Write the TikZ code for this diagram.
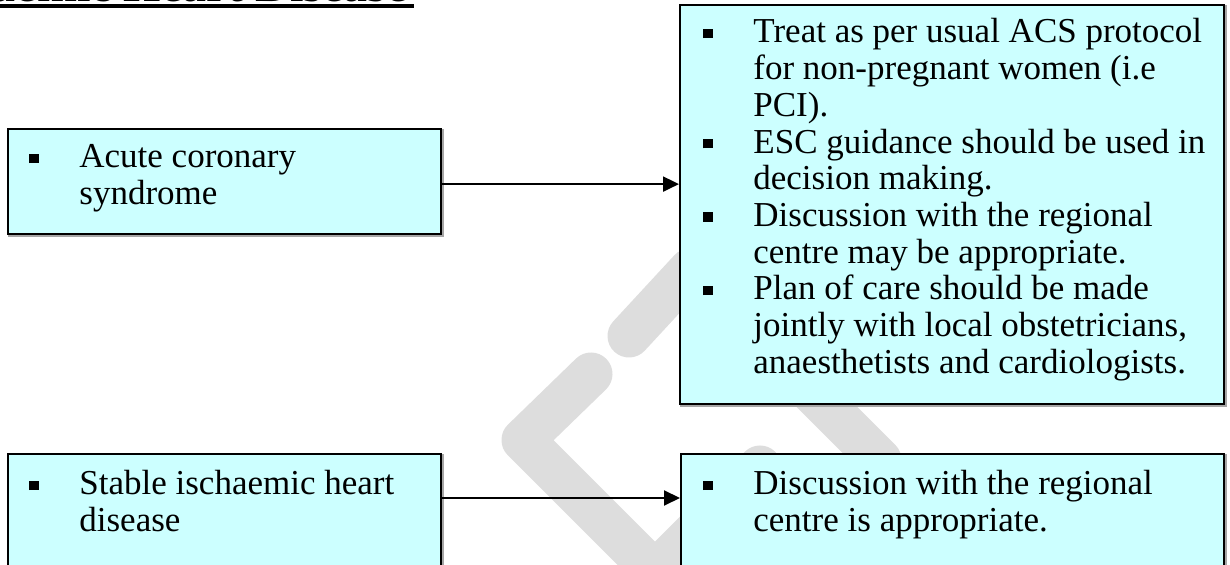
\documentclass[tikz,border=0pt]{standalone}
\usepackage{fontspec}
\setmainfont{Liberation Serif}
\usetikzlibrary{arrows.meta}
\definecolor{boxfill}{RGB}{204,255,255}
\definecolor{wmgray}{RGB}{221,221,221}
\newcommand{\bul}{\llap{\makebox[25pt][l]{\raisebox{2.4pt}{\rule{4.6pt}{4.6pt}}}}}
\tikzset{
  box/.style={draw=black, line width=1.1pt, fill=boxfill, inner sep=0pt, anchor=north west,
    preaction={draw=black!35, line width=1.1pt, transform canvas={shift={(0.7pt,-0.7pt)}}}},
  txt/.style={inner sep=0pt, anchor=base west, font=\fontsize{17.5pt}{18.35pt}\selectfont},
  arr/.style={line width=1pt, -{Triangle[length=8pt,width=7.5pt]}},
  wm/.style={draw=wmgray, line width=21.5pt, line cap=round, line join=round},
}
\begin{document}
\begin{tikzpicture}[x=0.5pt,y=-0.5pt]
\useasboundingbox (0,0) rectangle (1230,565);
\fill[white] (0,0) rectangle (1230,565);
% watermark
\draw[wm] (629,336) -- (690,270) -- (880,460);
\draw[wm] (591,374) -- (523,440) -- (655,572) -- (760,467);
% title
\node[anchor=base east, inner sep=0pt, font=\bfseries\fontsize{24pt}{24pt}\selectfont] (title) at (408,2) {Ischaemic Heart Disease};
\draw[line width=2pt] ([yshift=-2pt]title.base west) -- ([xshift=3pt,yshift=-2pt]title.base east);
% boxes
\node[box, minimum width=216.5pt, minimum height=52.5pt] (A) at (7,128) {};
\node[box, minimum width=272pt, minimum height=199.5pt] (B) at (679,4) {};
\node[box, minimum width=216.5pt, minimum height=73.5pt] (C) at (7,453) {};
\node[box, minimum width=271.5pt, minimum height=73.5pt] (D) at (680,453) {};
% texts
\node[txt] (tA) at (79,168) {\begin{tabular}[t]{@{}l@{}}\bul Acute coronary\\ syndrome\end{tabular}};
\node[txt] (tB) at (753,43) {\begin{tabular}[t]{@{}l@{}}\bul Treat as per usual ACS protocol\\ for non-pregnant women (i.e\\ PCI).\\ \bul ESC guidance should be used in\\ decision making.\\ \bul Discussion with the regional\\ centre may be appropriate.\\ \bul Plan of care should be made\\ jointly with local obstetricians,\\ anaesthetists and cardiologists.\end{tabular}};
\node[txt] (tC) at (79,495) {\begin{tabular}[t]{@{}l@{}}\bul Stable ischaemic heart\\ disease\end{tabular}};
\node[txt] (tD) at (753,495) {\begin{tabular}[t]{@{}l@{}}\bul Discussion with the regional\\ centre is appropriate.\end{tabular}};
% arrows
\draw[arr] ([yshift=-1.25pt]A.east) -- ([yshift=-1.25pt]A.east -| B.west);
\draw[arr] ([yshift=-22.5pt]C.north east) -- ([yshift=-22.5pt]C.north east -| D.west);
\end{tikzpicture}
\end{document}
